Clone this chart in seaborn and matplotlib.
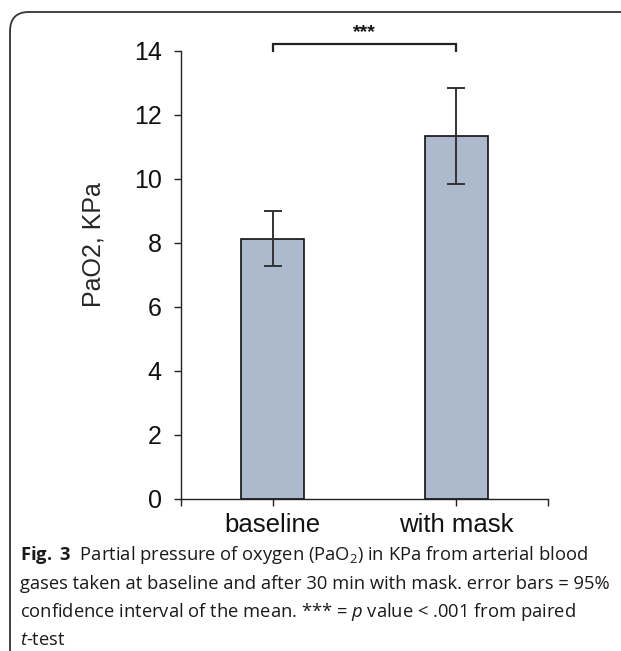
import matplotlib
matplotlib.use("Agg")
import matplotlib.pyplot as plt
from matplotlib.patches import FancyBboxPatch
import seaborn as sns
import pandas as pd

# ---- data ----
categories = ["baseline", "with mask"]
means = [8.13, 11.34]
ci_low = [7.27, 9.84]
ci_high = [9.00, 12.84]
y_ticks = [0, 2, 4, 6, 8, 10, 12, 14]
y_label = "PaO2, KPa"
sig_label = "***"

sns.set_theme(style="white")
plt.rcParams["font.family"] = ["Liberation Sans", "DejaVu Sans"]
plt.rcParams["mathtext.fontset"] = "custom"
plt.rcParams["mathtext.rm"] = "Open Sans"
plt.rcParams["mathtext.bf"] = "Open Sans:bold"
plt.rcParams["mathtext.it"] = "Open Sans:italic"
plt.rcParams["mathtext.default"] = "regular"

df = pd.DataFrame({"condition": categories, "PaO2": means})

fig = plt.figure(figsize=(6.21, 6.51), dpi=100)
ax = fig.add_axes([181 / 621, 1 - 499 / 651, (548 - 181) / 621, (499 - 51) / 651])

sns.barplot(data=df, x="condition", y="PaO2", order=categories, errorbar=None,
            color="#adb9cc", saturation=1, width=0.345, edgecolor="#111111",
            linewidth=1.2, ax=ax)

xs = list(range(len(categories)))
yerr = [[m - lo for m, lo in zip(means, ci_low)], [hi - m for m, hi in zip(means, ci_high)]]
ax.errorbar(xs, means, yerr=yerr, fmt="none", ecolor="#333333", elinewidth=1.4,
            capsize=6.5, capthick=1.4, zorder=5)

ax.set_xlim(-0.5, len(categories) - 0.5)
ax.set_ylim(0, 14)
ax.set_yticks(y_ticks)
ax.set_yticklabels([str(t) for t in y_ticks], fontsize=18)
ax.set_xticks(xs)
ax.set_xticklabels(categories, fontsize=18.5)
ax.set_xticks([-0.5, len(categories) - 0.5], minor=True)
ax.set_xlabel("")
ax.set_ylabel(y_label, fontsize=18)
ax.yaxis.set_label_coords(-0.205, 0.567)

for s in ["top", "right"]:
    ax.spines[s].set_visible(False)
for s in ["left", "bottom"]:
    ax.spines[s].set_color("#222222")
    ax.spines[s].set_linewidth(1.0)
ax.tick_params(axis="y", which="major", direction="out", length=5, width=1.0,
               color="#222222", left=True, pad=9, labelcolor="#111111")
ax.tick_params(axis="x", which="both", direction="out", length=5, width=1.0,
               color="#222222", bottom=True, pad=5, labelcolor="#111111")
ax.grid(False)

# significance bracket
ax.plot([0, 0, 1, 1], [13.97, 14.22, 14.22, 13.97], color="#222222", lw=1.6,
        clip_on=False, solid_capstyle="butt", solid_joinstyle="miter")
ax.text(0.5, 14.3, sig_label, ha="center", va="bottom", fontsize=14,
        fontweight="bold", color="#111111", clip_on=False)

# frame around the figure panel (rounded, runs off the page)
frame = FancyBboxPatch((10 / 621, -0.1), 1.2, (651 - 12) / 651 + 0.1,
                       boxstyle="round,pad=0,rounding_size=0.03",
                       transform=fig.transFigure, fill=False,
                       edgecolor="#333333", linewidth=1.3, clip_on=False)
fig.patches.append(frame)

# caption
cap_lines = [
    r"$\mathbf{Fig.\ 3}$  Partial pressure of oxygen (PaO$_2$) in KPa from arterial blood",
    r"gases taken at baseline and after 30 min with mask. error bars = 95%",
    r"confidence interval of the mean. *** = $\mathit{p}$ value < .001 from paired",
    r"$\mathit{t}$-test",
]
baselines = [560, 589, 617, 645]
for line, yb in zip(cap_lines, baselines):
    fig.text(20 / 621, 1 - yb / 651, line, ha="left", va="baseline",
             fontsize=13.2, family=["Open Sans", "DejaVu Sans"], color="#1a1a1a")

fig.savefig("out.png", dpi=100)
